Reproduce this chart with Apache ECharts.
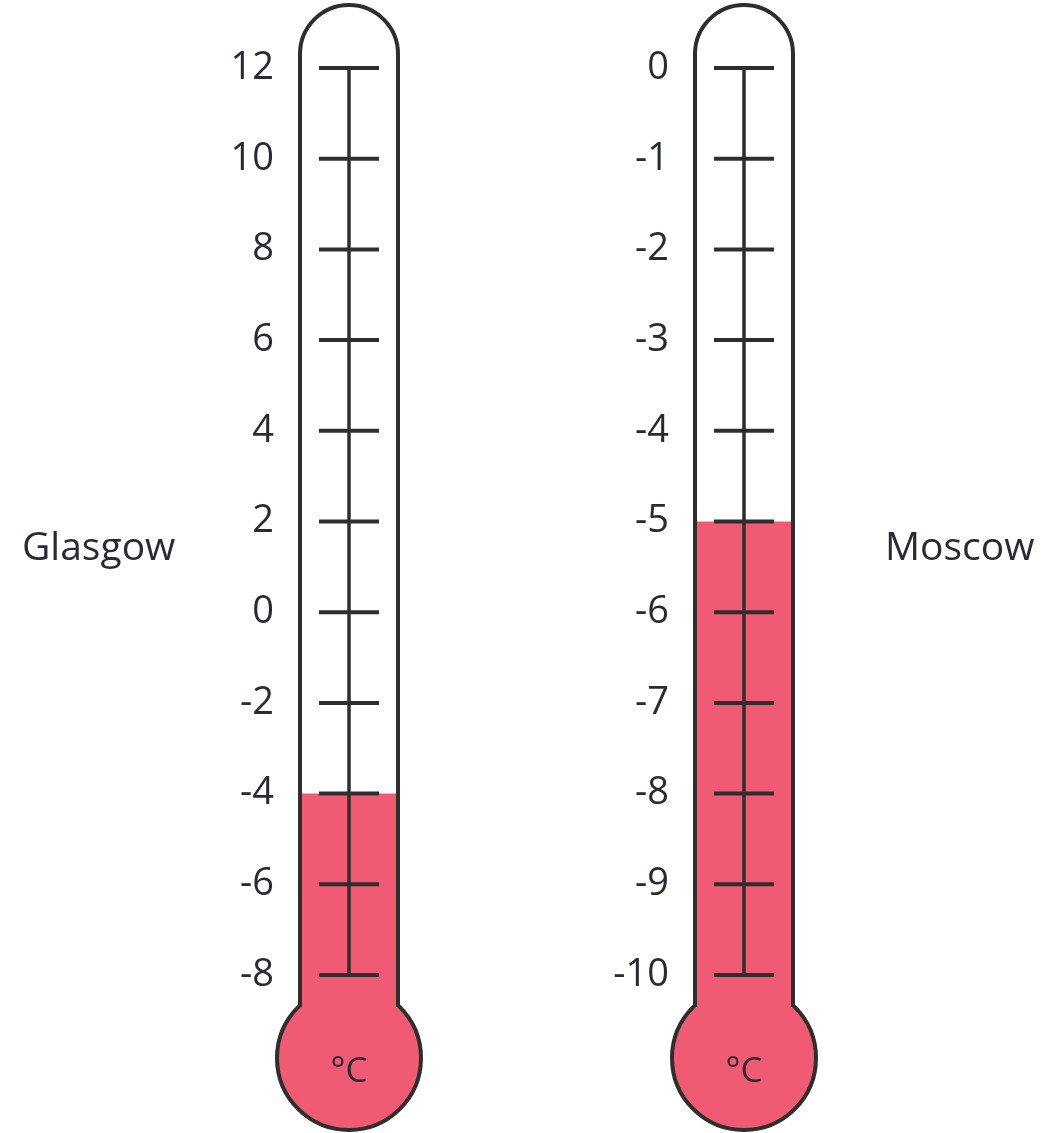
<!DOCTYPE html>
<html>
<head>
<meta charset="utf-8">
<script src="https://cdn.jsdelivr.net/npm/echarts@6/dist/echarts.min.js"></script>
<style>
  html, body { margin: 0; padding: 0; background: #fff; }
  #chart { width: 1041px; height: 1133px; }
</style>
</head>
<body>
<div id="chart"></div>
<script>
const cities = ['Glasgow', 'Moscow'];
const temperatures = [-4, -5];
const glasgowTicks = [12, 10, 8, 6, 4, 2, 0, -2, -4, -6, -8];
const moscowTicks = [0, -1, -2, -3, -4, -5, -6, -7, -8, -9, -10];

const ink = '#2e2e2e';
const red = '#f05a72';
const textColor = '#2a2a36';
const font = '"Open Sans", "Noto Sans", sans-serif';

// draws one thermometer: tube, bulb, mercury and scale marks
function thermometer(ticks) {
  const max = ticks[0];
  const min = ticks[ticks.length - 1];
  return function (params, api) {
    const val = api.value(1);
    const cx = api.coord([api.value(0), val])[0];
    const yVal = api.coord([api.value(0), val])[1];
    const yMax = api.coord([api.value(0), max])[1];
    const yMin = api.coord([api.value(0), min])[1];

    const hw = 49;
    const r = 72;
    const tubeTop = yMax - 63;
    const arcCy = tubeTop + hw;
    const bulbCy = yMin + 83;
    const wallBottom = bulbCy - Math.sqrt(r * r - hw * hw) + 2;

    const children = [
      {
        type: 'circle',
        shape: { cx: cx, cy: bulbCy, r: r },
        style: { fill: red, stroke: ink, lineWidth: 4 }
      },
      {
        type: 'path',
        shape: {
          pathData: 'M ' + (cx - hw) + ' ' + wallBottom +
            ' L ' + (cx - hw) + ' ' + arcCy +
            ' A ' + hw + ' ' + hw + ' 0 0 1 ' + (cx + hw) + ' ' + arcCy +
            ' L ' + (cx + hw) + ' ' + wallBottom
        },
        style: { fill: '#fff', stroke: ink, lineWidth: 4 }
      },
      {
        type: 'rect',
        shape: { x: cx - hw + 2, y: yVal, width: 2 * hw - 4, height: bulbCy - yVal },
        style: { fill: red }
      },
      {
        type: 'line',
        shape: { x1: cx, y1: yMax, x2: cx, y2: yMin },
        style: { stroke: ink, lineWidth: 3.5 }
      },
      {
        type: 'text',
        style: {
          x: cx, y: bulbCy + 14, text: '°C',
          font: '35px ' + font, fill: textColor,
          align: 'center', verticalAlign: 'middle'
        }
      }
    ];
    ticks.forEach(function (t) {
      const y = api.coord([api.value(0), t])[1];
      children.push({
        type: 'line',
        shape: { x1: cx - 30, y1: y, x2: cx + 30, y2: y },
        style: { stroke: ink, lineWidth: 4 }
      });
    });
    return { type: 'group', children: children };
  };
}

const chart = echarts.init(document.getElementById('chart'));

chart.setOption({
  animation: false,
  title: [
    { text: cities[0], left: 17, top: 524, textStyle: { fontFamily: font, fontSize: 39, fontWeight: 'normal', color: textColor } },
    { text: cities[1], left: 880, top: 524, textStyle: { fontFamily: font, fontSize: 39, fontWeight: 'normal', color: textColor } }
  ],
  grid: [
    { left: 319, width: 60, top: 68, bottom: 158 },
    { left: 714, width: 60, top: 68, bottom: 158 }
  ],
  xAxis: [
    { type: 'category', gridIndex: 0, data: [cities[0]], show: false },
    { type: 'category', gridIndex: 1, data: [cities[1]], show: false }
  ],
  yAxis: [
    {
      type: 'value', gridIndex: 0, min: -8, max: 12, interval: 2,
      axisLine: { show: false }, axisTick: { show: false }, splitLine: { show: false },
      axisLabel: { margin: 45, fontFamily: font, fontSize: 38, color: textColor }
    },
    {
      type: 'value', gridIndex: 1, min: -10, max: 0, interval: 1,
      axisLine: { show: false }, axisTick: { show: false }, splitLine: { show: false },
      axisLabel: { margin: 45, fontFamily: font, fontSize: 38, color: textColor }
    }
  ],
  series: [
    {
      type: 'custom', xAxisIndex: 0, yAxisIndex: 0,
      renderItem: thermometer(glasgowTicks),
      data: [[cities[0], temperatures[0]]]
    },
    {
      type: 'custom', xAxisIndex: 1, yAxisIndex: 1,
      renderItem: thermometer(moscowTicks),
      data: [[cities[1], temperatures[1]]]
    }
  ]
});
</script>
</body>
</html>
